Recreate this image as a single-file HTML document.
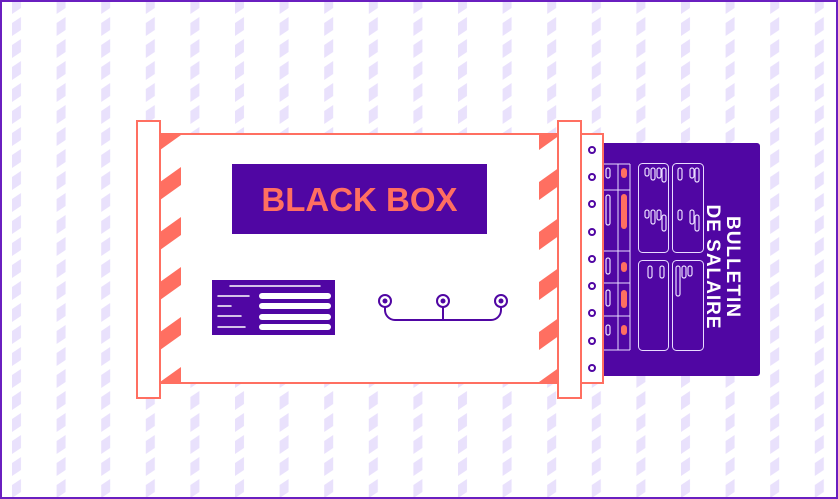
<!DOCTYPE html>
<html><head><meta charset="utf-8"><style>
html,body{margin:0;padding:0;background:#fff}
svg{display:block}
</style></head><body>
<svg width="838" height="499" viewBox="0 0 838 499" xmlns="http://www.w3.org/2000/svg">
<defs>
<pattern id="bg" x="12" y="-5" width="44.6" height="22" patternUnits="userSpaceOnUse">
<polygon points="0,6 9,0 9,13 0,19" fill="#e9e1fc"/>
</pattern>
<pattern id="str" x="160" y="134" width="21" height="50" patternUnits="userSpaceOnUse">
<polygon points="0,48 21,33 21,51 0,66" fill="#ff6f61"/>
<polygon points="0,-2 21,-17 21,1 0,16" fill="#ff6f61"/>
</pattern>
</defs>
<rect x="0" y="0" width="838" height="499" fill="url(#bg)"/>
<rect x="1" y="1" width="836" height="497" fill="none" stroke="#6a1fc0" stroke-width="2"/>

<!-- bulletin -->
<rect x="596" y="143" width="164" height="233" rx="3" fill="#5006a3"/>
<g fill="none" stroke="#e9dcff" stroke-width="1">
<rect x="638.5" y="163.5" width="30" height="89" rx="4"/>
<rect x="672.5" y="163.5" width="31" height="89" rx="4"/>
<rect x="638.5" y="260.5" width="30" height="90" rx="4"/>
<rect x="672.5" y="260.5" width="31" height="90" rx="4"/>
<line x1="603" y1="164" x2="630" y2="164"/>
<line x1="603" y1="190" x2="630" y2="190"/>
<line x1="603" y1="251" x2="630" y2="251"/>
<line x1="603" y1="283" x2="630" y2="283"/>
<line x1="603" y1="316" x2="630" y2="316"/>
<line x1="603" y1="350" x2="630" y2="350"/>
<line x1="630" y1="164" x2="630" y2="350"/>
<line x1="618" y1="164" x2="618" y2="350"/>
<g stroke-width="1.2">
<rect x="645" y="168" width="4" height="8" rx="2"/><rect x="651" y="168" width="4" height="12" rx="2"/><rect x="657" y="168" width="4" height="10" rx="2"/><rect x="662" y="168" width="4" height="14" rx="2"/>
<rect x="645" y="210" width="4" height="8" rx="2"/><rect x="651" y="210" width="4" height="14" rx="2"/><rect x="657" y="210" width="4" height="10" rx="2"/><rect x="662" y="215" width="4" height="16" rx="2"/>
<rect x="678" y="168" width="4" height="12" rx="2"/><rect x="690" y="168" width="4" height="10" rx="2"/><rect x="695" y="168" width="4" height="14" rx="2"/>
<rect x="678" y="210" width="4" height="10" rx="2"/><rect x="690" y="210" width="4" height="14" rx="2"/><rect x="695" y="215" width="4" height="16" rx="2"/>
<rect x="648" y="266" width="4" height="12" rx="2"/><rect x="660" y="266" width="4" height="12" rx="2"/>
<rect x="676" y="266" width="4" height="30" rx="2"/><rect x="682" y="266" width="4" height="12" rx="2"/><rect x="688" y="266" width="4" height="10" rx="2"/>
<rect x="606" y="168" width="4" height="10" rx="2"/><rect x="606" y="195" width="4" height="30" rx="2"/>
<rect x="606" y="258" width="4" height="16" rx="2"/><rect x="606" y="290" width="4" height="16" rx="2"/><rect x="606" y="325" width="4" height="10" rx="2"/>
</g>
</g>
<g fill="#ff6f61">
<rect x="621" y="168" width="6" height="10" rx="3"/>
<rect x="621" y="194" width="6" height="35" rx="3"/>
<rect x="621" y="262" width="6" height="10" rx="3"/>
<rect x="621" y="290" width="6" height="18" rx="3"/>
<rect x="621" y="325" width="6" height="10" rx="3"/>
</g>
<g transform="translate(727,267) rotate(90)" fill="#fff" font-family="Liberation Sans, sans-serif" font-weight="bold" font-size="19" text-anchor="middle">
<text x="0" y="0" letter-spacing="1">BULLETIN</text>
<text x="0" y="20" letter-spacing="1">DE SALAIRE</text>
</g>

<!-- perforated strip -->
<rect x="581" y="134" width="22" height="249" fill="#fff" stroke="#ff6f61" stroke-width="2"/>
<g fill="none" stroke="#5006a3" stroke-width="2">
<circle cx="592" cy="150" r="3"/><circle cx="592" cy="177" r="3"/><circle cx="592" cy="204" r="3"/>
<circle cx="592" cy="232" r="3"/><circle cx="592" cy="259" r="3"/><circle cx="592" cy="286" r="3"/>
<circle cx="592" cy="313" r="3"/><circle cx="592" cy="341" r="3"/><circle cx="592" cy="368" r="3"/>
</g>

<!-- box -->
<rect x="160" y="134" width="400" height="249" fill="#fff" stroke="#ff6f61" stroke-width="2"/>
<rect x="161" y="135" width="20" height="247" fill="url(#str)"/>
<g transform="translate(379,0)"><rect x="160" y="135" width="20" height="247" fill="url(#str)"/></g>
<rect x="137" y="121" width="23" height="277" fill="#fff" stroke="#ff6f61" stroke-width="2"/>
<rect x="558" y="121" width="23" height="277" fill="#fff" stroke="#ff6f61" stroke-width="2"/>

<rect x="232" y="164" width="255" height="70" fill="#5006a3"/>
<text x="359.5" y="211" text-anchor="middle" font-family="Liberation Sans, sans-serif" font-weight="bold" font-size="33" fill="#ff6f61">BLACK BOX</text>

<rect x="212" y="280" width="123" height="55" fill="#5006a3"/>
<g stroke="#fff" stroke-linecap="round">
<line x1="230" y1="286" x2="320" y2="286" stroke-width="1.5"/>
<line x1="218" y1="296" x2="249" y2="296" stroke-width="1.5"/>
<line x1="218" y1="306" x2="231" y2="306" stroke-width="1.5"/>
<line x1="218" y1="316" x2="241" y2="316" stroke-width="1.5"/>
<line x1="218" y1="327" x2="245" y2="327" stroke-width="1.5"/>
<line x1="262" y1="296" x2="328" y2="296" stroke-width="6"/>
<line x1="262" y1="306" x2="328" y2="306" stroke-width="6"/>
<line x1="262" y1="317" x2="328" y2="317" stroke-width="6"/>
<line x1="262" y1="327" x2="328" y2="327" stroke-width="6"/>
</g>

<g stroke="#5006a3" stroke-width="2" fill="none">
<path d="M385,307 v3 a10,10 0 0 0 10,10 h96 a10,10 0 0 0 10,-10 v-3"/>
<line x1="443" y1="307" x2="443" y2="320"/>
<circle cx="385" cy="301" r="6"/><circle cx="443" cy="301" r="6"/><circle cx="501" cy="301" r="6"/>
</g>
<g fill="#5006a3"><circle cx="385" cy="301" r="2.5"/><circle cx="443" cy="301" r="2.5"/><circle cx="501" cy="301" r="2.5"/></g>
</svg>
</body></html>
